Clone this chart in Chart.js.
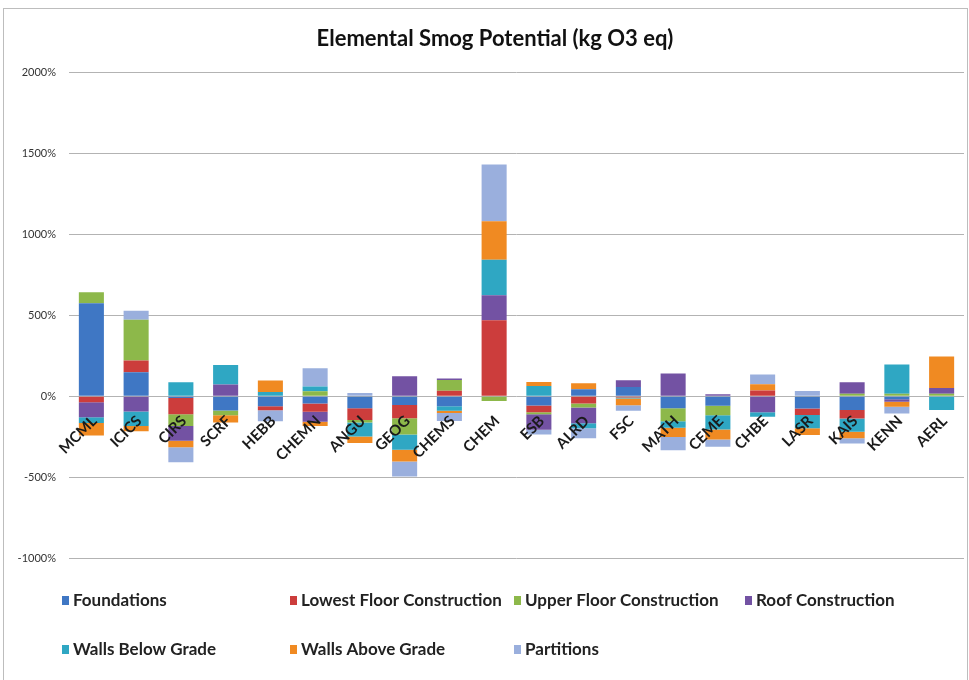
<!DOCTYPE html>
<html>
<head>
<meta charset="utf-8">
<script src="https://cdn.jsdelivr.net/npm/chart.js@4.4.1/dist/chart.umd.min.js"></script>
<style>
  html, body { margin: 0; padding: 0; background: #ffffff; }
  #wrap { position: relative; width: 969px; height: 680px; }
</style>
</head>
<body>
<div id="wrap"><canvas id="c" width="969" height="680"></canvas></div>
<script>
// Buildings and per-element smog potential (% of reference)
const categories = ['MCML', 'ICICS', 'CIRS', 'SCRF', 'HEBB', 'CHEMN', 'ANGU', 'GEOG', 'CHEMS', 'CHEM',
                    'ESB', 'ALRD', 'FSC', 'MATH', 'CEME', 'CHBE', 'LASR', 'KAIS', 'KENN', 'AERL'];

const foundations     = [574, 148, -12, -88, -62, -45, -75, -55, -62, 0, -58, 42, 57, -75, -60, 0, -76, -86, -20, 0];
const lowestFloor     = [-38, 72, -100, 0, -25, -52, -72, -82, 33, 469, -42, -45, -8, 0, 0, 35, -40, -52, 0, 0];
const upperFloor      = [68, 252, -72, -30, 0, 30, -16, -100, 66, -30, -12, -25, 0, -80, -58, 0, 0, 14, 15, 15];
const roof            = [-92, -95, -92, 72, 0, -62, 0, 123, 10, 154, -95, -98, 41, 140, 12, -100, 0, 72, -15, 35];
const wallsBelowGrade = [-36, -90, 85, 120, 25, 30, -86, -95, -28, 220, 62, -30, -6, -40, -88, -28, -82, -82, 181, -86];
const wallsAboveGrade = [-77, -32, -40, -45, 72, -25, -40, -72, -14, 238, 25, 37, -42, -58, -62, 38, -42, -40, -30, 195];
const partitions      = [0, 55, -93, 0, -68, 113, 20, -92, -50, 350, -30, -62, -35, -82, -45, 60, 32, -32, -42, 0];

const seriesLabels = ['Foundations', 'Lowest Floor Construction', 'Upper Floor Construction', 'Roof Construction',
                      'Walls Below Grade', 'Walls Above Grade', 'Partitions'];

const yTicks = { min: -1000, max: 2000, step: 500 };

// Series styling
const palette = ['#3f77c4', '#cc3d3c', '#8db84a', '#7352a3', '#2fa7c3', '#f08a22', '#9aafdd'];
const seriesValues = [foundations, lowestFloor, upperFloor, roof, wallsBelowGrade, wallsAboveGrade, partitions];

const datasets = seriesValues.map((vals, i) => ({
  label: seriesLabels[i],
  data: vals,
  backgroundColor: palette[i],
  borderWidth: 0,
  categoryPercentage: 1.0,
  barPercentage: 0.56
}));

// Outer chart frame; also nudges the title box so the heading sits a little right of centre
const frame = {
  id: 'frame',
  afterLayout(chart) {
    if (chart.titleBlock) {
      chart.titleBlock.left = 26;
    }
  },
  beforeDraw(chart) {
    const ctx = chart.ctx;
    ctx.save();
    ctx.strokeStyle = '#bdbdbd';
    ctx.lineWidth = 1;
    ctx.strokeRect(3.5, 8.5, 964, 700);
    ctx.restore();
  }
};

// Legend laid out in fixed columns under the plot
const columnLegend = {
  id: 'columnLegend',
  afterDraw(chart) {
    const ctx = chart.ctx;
    const cols = [62, 290, 514, 745];
    const rows = [601, 650];
    ctx.save();
    ctx.font = 'bold 17px Lato';
    ctx.textBaseline = 'middle';
    ctx.textAlign = 'left';
    chart.data.datasets.forEach((ds, i) => {
      const x = cols[i % 4];
      const y = rows[Math.floor(i / 4)];
      ctx.fillStyle = ds.backgroundColor;
      ctx.fillRect(x, y - 5, 7, 9);
      ctx.fillStyle = '#222222';
      ctx.fillText(ds.label, x + 11, y);
    });
    ctx.restore();
  }
};

new Chart(document.getElementById('c'), {
  type: 'bar',
  data: { labels: categories, datasets },
  plugins: [frame, columnLegend],
  options: {
    responsive: false,
    animation: false,
    devicePixelRatio: 1,
    layout: { padding: { top: 17, left: 0, right: 5, bottom: 122 } },
    plugins: {
      legend: { display: false },
      tooltip: { enabled: false },
      title: {
        display: true,
        text: 'Elemental Smog Potential (kg O3 eq)',
        color: '#111111',
        font: { family: 'Lato', size: 22, weight: 'bold' },
        padding: { top: 9, bottom: 20 }
      }
    },
    scales: {
      x: {
        stacked: true,
        position: { y: 0 },
        grid: { display: false },
        border: { display: false },
        ticks: {
          z: 1,
          autoSkip: false,
          minRotation: 45,
          maxRotation: 45,
          padding: 8,
          labelOffset: 3,
          color: '#1a1a1a',
          font: { family: 'Lato', size: 15, weight: 'bold' }
        }
      },
      y: {
        stacked: true,
        min: yTicks.min,
        max: yTicks.max,
        afterFit(scale) { scale.width = 69; },
        grid: { color: '#b3b3b3', lineWidth: 1, drawTicks: false },
        border: { display: false },
        ticks: {
          stepSize: yTicks.step,
          padding: 13,
          color: '#333333',
          font: { family: 'Lato', size: 11 },
          callback: v => v + '%'
        }
      }
    }
  }
});
</script>
</body>
</html>
